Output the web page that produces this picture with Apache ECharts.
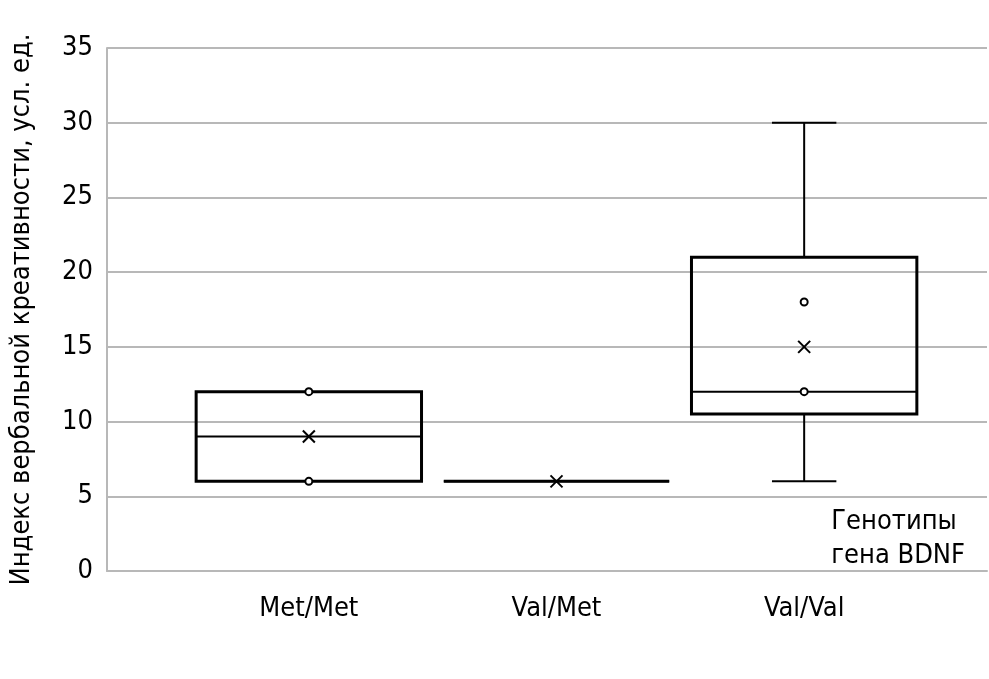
<!DOCTYPE html>
<html><head><meta charset="utf-8">
<script src="https://cdn.jsdelivr.net/npm/echarts@6/dist/echarts.min.js"></script>
<style>html,body{margin:0;padding:0;background:#fff}#c{width:989px;height:679px}</style>
</head><body><div id="c"></div>
<script>
const categories = ['Met/Met', 'Val/Met', 'Val/Val'];
const mins    = [6, 6, 6];
const q1s     = [6, 6, 10.5];
const medians = [9, 6, 12];
const q3s     = [12, 6, 21];
const maxs    = [12, 6, 30];
const means   = [9, 6, 15];
const pointCats = [0, 0, 2, 2];
const pointVals = [12, 6, 18, 12];
const yTicks = [0, 5, 10, 15, 20, 25, 30, 35];

const FONT = '"Liberation Sans Narrow", "DejaVu Sans Condensed", "Roboto Condensed", "Noto Sans", sans-serif';
const chart = echarts.init(document.getElementById('c'), null, {renderer: 'canvas'});

const boxData = categories.map((c, i) => [i, mins[i], q1s[i], medians[i], q3s[i], maxs[i], means[i]]);
const ptData = pointCats.map((c, i) => [c, pointVals[i]]);

function renderBox(params, api) {
  const i = api.value(0);
  const band = api.size([1, 0])[0];
  const hw = band * 0.455, cw = band * 0.13;
  const pMin = api.coord([i, api.value(1)]);
  const pQ1 = api.coord([i, api.value(2)]);
  const pMed = api.coord([i, api.value(3)]);
  const pQ3 = api.coord([i, api.value(4)]);
  const pMax = api.coord([i, api.value(5)]);
  const pMean = api.coord([i, api.value(6)]);
  const x = pMed[0];
  const st = {stroke: '#000', lineWidth: 3, fill: null};
  const thin = {stroke: '#000', lineWidth: 2, fill: null};
  const ch = [];
  if (pMax[1] < pQ3[1] - 0.5) {
    ch.push({type: 'line', shape: {x1: x, y1: pQ3[1], x2: x, y2: pMax[1]}, style: thin});
    ch.push({type: 'line', shape: {x1: x - cw, y1: pMax[1], x2: x + cw, y2: pMax[1]}, style: thin});
  }
  if (pMin[1] > pQ1[1] + 0.5) {
    ch.push({type: 'line', shape: {x1: x, y1: pQ1[1], x2: x, y2: pMin[1]}, style: thin});
    ch.push({type: 'line', shape: {x1: x - cw, y1: pMin[1], x2: x + cw, y2: pMin[1]}, style: thin});
  }
  ch.push({type: 'rect', shape: {x: x - hw, y: pQ3[1], width: 2 * hw, height: pQ1[1] - pQ3[1]}, style: st});
  ch.push({type: 'line', shape: {x1: x - hw, y1: pMed[1], x2: x + hw, y2: pMed[1]}, style: thin});
  const m = 6;
  ch.push({type: 'line', shape: {x1: pMean[0] - m, y1: pMean[1] - m, x2: pMean[0] + m, y2: pMean[1] + m}, style: thin});
  ch.push({type: 'line', shape: {x1: pMean[0] - m, y1: pMean[1] + m, x2: pMean[0] + m, y2: pMean[1] - m}, style: thin});
  return {type: 'group', children: ch};
}

chart.setOption({
  animation: false,
  backgroundColor: '#fff',
  grid: [
    {left: 102, right: 2, top: 48, bottom: 108},
    {left: 185, right: 61, top: 48, bottom: 108}
  ],
  xAxis: [
    {gridIndex: 0, type: 'value', min: 0, max: 1, axisLine: {show: true, lineStyle: {color: '#b8b8b8', width: 2}},
     axisTick: {show: false}, axisLabel: {show: false}, splitLine: {show: false}},
    {gridIndex: 1, type: 'category', data: categories, boundaryGap: true,
     axisLine: {show: false}, axisTick: {show: false},
     axisLabel: {color: '#000', fontSize: 27, fontFamily: FONT, margin: 24}}
  ],
  yAxis: [
    {gridIndex: 0, type: 'value', min: 0, max: 35, interval: 5,
     name: 'Индекс вербальной креативности, усл. ед.', nameLocation: 'middle', nameGap: 72, nameRotate: 90,
     nameTextStyle: {color: '#000', fontSize: 27, fontFamily: FONT},
     axisLine: {show: true, lineStyle: {color: '#b8b8b8', width: 2}},
     axisTick: {show: false},
     axisLabel: {color: '#000', fontSize: 27, fontFamily: FONT, margin: 14,
       formatter: v => yTicks.includes(v) ? String(v) : ''},
     splitLine: {show: true, lineStyle: {color: '#b8b8b8', width: 2}}},
    {gridIndex: 1, type: 'value', min: 0, max: 35, show: false, splitLine: {show: false}}
  ],
  series: [
    {type: 'custom', xAxisIndex: 1, yAxisIndex: 1, data: boxData, renderItem: renderBox,
     encode: {x: 0, y: [1, 2, 3, 4, 5, 6]}, z: 3},
    {type: 'scatter', xAxisIndex: 1, yAxisIndex: 1, data: ptData, symbol: 'circle', symbolSize: 7,
     itemStyle: {color: '#fff', borderColor: '#000', borderWidth: 2, opacity: 1}, z: 4}
  ],
  graphic: [
    {type: 'text', right: 24, top: 505,
     style: {text: 'Генотипы\nгена BDNF', fill: '#000', font: '27px ' + FONT, align: 'right', lineHeight: 34}}
  ]
});
</script></body></html>
